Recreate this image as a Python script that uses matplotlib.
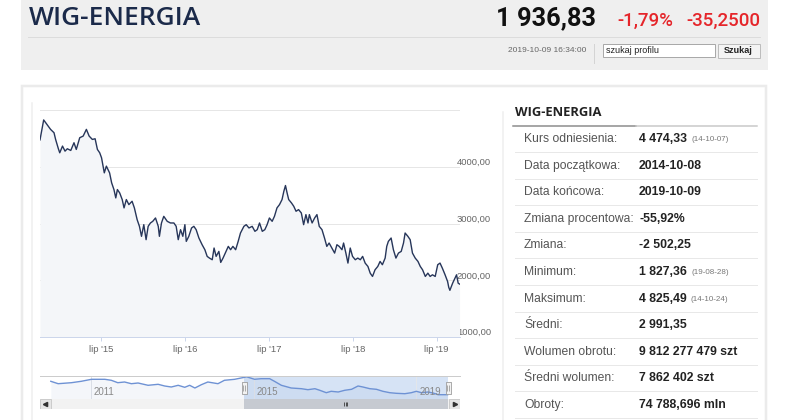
import numpy as np
import matplotlib
matplotlib.use('Agg')
import matplotlib.pyplot as plt
from matplotlib.patches import Rectangle
from matplotlib.path import Path

# ---- data ----
main_dates = [
    '2014-10-08', '2014-10-24', '2014-11-23', '2014-12-08', '2014-12-15', '2014-12-27',
    '2015-01-02', '2015-01-14', '2015-01-25', '2015-02-04', '2015-02-19', '2015-03-05',
    '2015-03-15', '2015-03-30', '2015-04-14', '2015-04-28', '2015-05-10', '2015-05-24',
    '2015-06-05', '2015-06-15', '2015-06-25', '2015-07-03', '2015-07-15', '2015-07-24',
    '2015-08-07', '2015-08-16', '2015-08-26', '2015-09-03', '2015-09-10', '2015-09-20',
    '2015-10-01', '2015-10-09', '2015-10-19', '2015-10-30', '2015-11-13', '2015-11-23',
    '2015-12-05', '2015-12-15', '2015-12-24', '2016-01-03', '2016-01-13', '2016-01-22',
    '2016-02-01', '2016-02-11', '2016-02-23', '2016-03-06', '2016-03-11', '2016-03-20',
    '2016-03-30', '2016-04-14', '2016-04-28', '2016-05-13', '2016-05-23', '2016-06-01',
    '2016-06-11', '2016-06-21', '2016-06-30', '2016-07-06', '2016-07-17', '2016-07-29',
    '2016-08-08', '2016-08-18', '2016-08-30', '2016-09-13', '2016-09-25', '2016-10-05',
    '2016-10-15', '2016-10-27', '2016-11-04', '2016-11-13', '2016-11-25', '2016-12-03',
    '2016-12-13', '2016-12-23', '2017-01-05', '2017-01-15', '2017-01-25', '2017-02-06',
    '2017-02-17', '2017-02-27', '2017-03-14', '2017-03-24', '2017-04-05', '2017-04-19',
    '2017-05-01', '2017-05-11', '2017-05-21', '2017-06-02', '2017-06-13', '2017-06-23',
    '2017-07-03', '2017-07-15', '2017-07-25', '2017-08-05', '2017-08-16', '2017-08-27',
    '2017-09-04', '2017-09-11', '2017-09-18', '2017-09-25', '2017-10-07', '2017-10-17',
    '2017-10-27', '2017-11-07', '2017-11-19', '2017-11-29', '2017-12-09', '2017-12-18',
    '2017-12-24', '2018-01-05', '2018-01-16', '2018-01-26', '2018-02-05', '2018-02-17',
    '2018-02-28', '2018-03-10', '2018-03-20', '2018-04-01', '2018-04-13', '2018-04-23',
    '2018-05-03', '2018-05-15', '2018-05-22', '2018-06-01', '2018-06-10', '2018-06-20',
    '2018-06-30', '2018-07-12', '2018-07-23', '2018-08-03', '2018-08-13', '2018-08-24',
    '2018-09-05', '2018-09-15', '2018-09-25', '2018-10-06', '2018-10-18', '2018-10-28',
    '2018-11-07', '2018-11-19', '2018-11-26', '2018-12-03', '2018-12-15', '2018-12-25',
    '2019-01-05', '2019-01-16', '2019-01-28', '2019-02-07', '2019-02-14', '2019-02-26',
    '2019-03-08', '2019-03-18', '2019-03-30', '2019-04-11', '2019-04-21', '2019-05-01',
    '2019-05-13', '2019-05-24', '2019-06-03', '2019-06-13', '2019-06-25', '2019-07-06',
    '2019-07-16', '2019-07-26', '2019-08-07', '2019-08-18', '2019-08-23', '2019-08-28',
    '2019-09-09', '2019-09-19', '2019-09-26', '2019-10-03', '2019-10-09',
]
main_values = [
    4474, 4825, 4659, 4600, 4482, 4318,
    4247, 4365, 4276, 4318, 4288, 4424,
    4306, 4512, 4541, 4659, 4541, 4482,
    4494, 4306, 4247, 4159, 3894, 4012,
    3894, 3718, 3600, 3453, 3600, 3541,
    3424, 3277, 3424, 3335, 3394, 3277,
    3071, 2953, 2777, 2982, 2718, 2953,
    3012, 3041, 3100, 2953, 2777, 3012,
    3129, 3041, 3012, 3012, 2953, 2718,
    2894, 2777, 2982, 2688, 2777, 2924,
    2953, 2894, 2747, 2629, 2541, 2424,
    2394, 2365, 2571, 2424, 2512, 2318,
    2394, 2482, 2600, 2541, 2600, 2541,
    2688, 2835, 2953, 2982, 2924, 2953,
    2865, 2894, 3012, 2865, 2894, 2982,
    3100, 3041, 3129, 3277, 3335, 3424,
    3571, 3671, 3541, 3424, 3365, 3306,
    3218, 3247, 3188, 2982, 3159, 3012,
    3159, 3012, 3100, 3159, 2953, 2894,
    2747, 2600, 2659, 2571, 2482, 2629,
    2600, 2541, 2659, 2482, 2306, 2571,
    2424, 2365, 2394, 2365, 2424, 2306,
    2247, 2129, 2071, 2188, 2247, 2335,
    2277, 2394, 2600, 2688, 2747, 2541,
    2394, 2482, 2512, 2659, 2835, 2777,
    2718, 2482, 2394, 2335, 2247, 2188,
    2071, 2129, 2071, 2100, 2071, 2277,
    2306, 2218, 2100, 1982, 1880, 1827,
    1953, 2041, 2100, 1953, 1937,
]

nav_dates = [
    '2010-01-08', '2010-03-15', '2010-07-12', '2010-10-08', '2011-01-08', '2011-05-08',
    '2011-07-05', '2011-09-01', '2011-11-01', '2012-01-01', '2012-03-01', '2012-05-30',
    '2012-08-28', '2012-10-26', '2012-12-24', '2013-02-24', '2013-04-24', '2013-06-07',
    '2013-07-24', '2013-09-20', '2013-11-17', '2014-02-16', '2014-04-15', '2014-07-16',
    '2014-11-01', '2015-01-11', '2015-03-10', '2015-05-26', '2015-07-08', '2015-09-08',
    '2015-12-05', '2016-03-06', '2016-05-03', '2016-07-05', '2016-08-18', '2016-10-15',
    '2016-11-28', '2017-01-30', '2017-03-29', '2017-05-30', '2017-07-27', '2017-09-09',
    '2017-11-10', '2018-01-08', '2018-03-07', '2018-05-08', '2018-07-05', '2018-09-20',
    '2018-11-17', '2019-01-01', '2019-02-17', '2019-04-16', '2019-05-31', '2019-07-16',
    '2019-10-09',
]
nav_values = [
    3972, 3608, 3760, 3972, 4276, 4276,
    4124, 3760, 3866, 3608, 3714, 3364,
    3516, 3258, 3106, 3364, 3060, 3364,
    2954, 3456, 3866, 3608, 4124, 4276,
    4650, 4276, 4368, 4368, 3972, 3364,
    2954, 2848, 2696, 2848, 2604, 2240,
    2452, 2346, 2604, 2756, 3258, 3106,
    2848, 2756, 2452, 2240, 2148, 2088,
    2240, 2452, 2240, 2346, 2194, 1936,
    1936,
]

tick_years = [2015, 2016, 2017, 2018, 2019]
nav_years = [2011, 2015, 2019]
y_ticks = [1000, 2000, 3000, 4000, 5000]
y_labels = ['1000,00', '2000,00', '3000,00', '4000,00', '']

stat_labels = ['Kurs odniesienia:', 'Data początkowa:', 'Data końcowa:', 'Zmiana procentowa:',
               'Zmiana:', 'Minimum:', 'Maksimum:', 'Średni:', 'Wolumen obrotu:',
               'Średni wolumen:', 'Obroty:']
stat_values = ['4 474,33', '2014-10-08', '2019-10-09', '-55,92%', '-2 502,25', '1 827,36',
               '4 825,49', '2 991,35', '9 812 277 479 szt', '7 862 402 szt', '74 788,696 mln']
stat_notes = ['(14-10-07)', '', '', '', '', '(19-08-28)', '(14-10-24)', '', '', '', '']

# ---- layout helpers (pixels) ----
W, H = 786, 420
PX = 0.72  # points per pixel at dpi 100
ARIAL = ['Liberation Sans', 'DejaVu Sans']
HEAD = ['Open Sans', 'DejaVu Sans']
NUM = ['Roboto', 'DejaVu Sans']


def rect(x0, y0, x1, y1):
    return [x0 / W, 1 - y1 / H, (x1 - x0) / W, (y1 - y0) / H]


fig = plt.figure(figsize=(W / 100, H / 100), dpi=100, facecolor='white')
bg = fig.add_axes([0, 0, 1, 1])
bg.set_xlim(0, W)
bg.set_ylim(H, 0)
bg.axis('off')

# header
bg.add_patch(Rectangle((20.7, 0), 747.3, 70, fc='#efefef', ec='none'))
bg.plot([28, 760], [36.7, 36.7], color='#dcdcdc', lw=1 * PX)
bg.text(29, 25, 'WIG-ENERGIA', family=HEAD, fontsize=19, weight='semibold', color='#1b2a4a',
        va='baseline')
bg.text(596, 25.5, '1 936,83', family=NUM, fontsize=18.3, weight='bold', color='#111111',
        va='baseline', ha='right')
bg.text(617, 25.5, '-1,79%', family=NUM, fontsize=13.5, weight='medium', color='#e5252a',
        va='baseline')
bg.text(760, 25.5, '-35,2500', family=NUM, fontsize=13.5, weight='medium', color='#e5252a',
        va='baseline', ha='right')
bg.text(586, 50.5, '2019-10-09 16:34:00', family=ARIAL, fontsize=6, color='#666666',
        ha='right', va='center')
bg.plot([594, 594], [43.5, 63], color='#d4d4d4', lw=1 * PX)
bg.add_patch(Rectangle((603, 44), 112, 13, fc='white', ec='#a9a9a9', lw=1 * PX))
bg.text(606, 50.5, 'szukaj profilu', family=ARIAL, fontsize=6.5, color='#222222', va='center')
bg.add_patch(Rectangle((717.5, 43.5), 42, 14, fc='#f4f4f4', ec='#bdbdbd', lw=1 * PX))
bg.text(738.5, 50.7, 'Szukaj', family=ARIAL, fontsize=6.6, weight='bold', color='#222222',
        ha='center', va='center')

# panels
bg.add_patch(Rectangle((21.8, 86), 744.5, 340, fc='white', ec='#ebebeb', lw=2.5 * PX))
bg.plot([32, 32], [102.7, 420], color='#eeeeee', lw=1.5 * PX)
bg.plot([502.7, 502.7], [111.7, 420], color='#eeeeee', lw=1.5 * PX)

# ---- main chart ----
mx = np.array(main_dates, dtype='datetime64[D]')
ax = fig.add_axes(rect(40, 110, 460, 337.3))
ax.set_facecolor('white')
ax.fill_between(mx, main_values, 1000, color='#f4f6f9', lw=0)
ax.plot(mx, main_values, color='#27365a', lw=1.0)
ax.set_xlim(np.datetime64('2014-10-08'), np.datetime64('2019-10-11'))
ax.set_ylim(1000, 5000)
ax.set_yticks(y_ticks)
ax.set_yticklabels(y_labels)
ax.yaxis.tick_right()
ax.yaxis.grid(True, color='#e6e6e6', lw=1 * PX)
ax.set_axisbelow(True)
ax.set_xticks([np.datetime64('%d-07-01' % y) for y in tick_years])
ax.set_xticklabels(["lip '%02d" % (y % 100) for y in tick_years])
for s in ['top', 'left', 'right']:
    ax.spines[s].set_visible(False)
ax.spines['bottom'].set_color('#ccd6eb')
ax.spines['bottom'].set_linewidth(1 * PX)
ax.tick_params(axis='x', length=4 * PX, width=1 * PX, color='#ccd6eb', labelsize=6.8,
               labelcolor='#666666', pad=2.5)
ax.tick_params(axis='y', length=0, labelsize=6.8, labelcolor='#666666', pad=-2.2)
for t in ax.get_xticklabels() + ax.get_yticklabels():
    t.set_family(ARIAL)
for t in ax.yaxis.get_major_ticks():
    t.label2.set_verticalalignment('bottom')

# ---- navigator ----
nx = np.array(nav_dates, dtype='datetime64[D]')
nav = fig.add_axes(rect(40, 376, 460, 398.7))
nav.set_xlim(np.datetime64('2009-10-03'), np.datetime64('2020-01-28'))
nav.set_ylim(1328, 4778)
nav.axvspan(mx[0], mx[-1], color='#d6e3f5', lw=0, zorder=0.5)
for y in nav_years:
    nav.axvline(np.datetime64('%d-01-01' % y), color='#e3e6ea', lw=1 * PX, zorder=0.6)
nav.fill_between(nx, nav_values, 1328, color='#335cad', alpha=0.05, lw=0, zorder=1)
nav.plot(nx, nav_values, color='#6e92d4', lw=1.0, zorder=2)
for y in nav_years:
    nav.annotate(str(y), xy=(np.datetime64('%d-01-01' % y), 0.3),
                 xycoords=('data', 'axes fraction'), xytext=(2.2, 0),
                 textcoords='offset points', ha='left', va='center',
                 family=ARIAL, fontsize=7, color='#888888')
nav.set_xticks([])
nav.set_yticks([])
for s in ['left', 'right', 'bottom']:
    nav.spines[s].set_visible(False)
nav.spines['top'].set_color('#cccccc')
nav.spines['top'].set_linewidth(1 * PX)

handle = Path([(-2.5, -6), (2.5, -6), (2.5, 6), (-2.5, 6), (-2.5, -6),
               (-0.8, -3), (-0.8, 3), (0.8, -3), (0.8, 3)],
              [Path.MOVETO, Path.LINETO, Path.LINETO, Path.LINETO, Path.CLOSEPOLY,
               Path.MOVETO, Path.LINETO, Path.MOVETO, Path.LINETO])
nav.plot([mx[0], mx[-1]], [0.47, 0.47], ls='none', marker=handle, markersize=12 * PX,
         mfc='#f2f2f2', mec='#999999', mew=0.8 * PX,
         transform=nav.get_xaxis_transform(), clip_on=False, zorder=5)

# ---- scrollbar ----
sb = fig.add_axes(rect(40, 398.7, 460, 409.3))
sb.set_xlim(nav.get_xlim())
sb.set_ylim(0, 1)
sb.set_facecolor('#f2f2f2')
sb.axvspan(mx[0], mx[-1], color='#c6cad1', lw=0)
bw = 10.7 / 420
sb.add_patch(Rectangle((0, 0), bw, 1, transform=sb.transAxes, fc='#e6e6e6', ec='#cccccc', lw=1 * PX))
sb.add_patch(Rectangle((1 - bw, 0), bw, 1, transform=sb.transAxes, fc='#e6e6e6', ec='#cccccc', lw=1 * PX))
sb.plot([bw / 2], [0.5], marker='<', markersize=3 * PX * 1.4, color='#333333', transform=sb.transAxes)
sb.plot([1 - bw / 2], [0.5], marker='>', markersize=3 * PX * 1.4, color='#333333', transform=sb.transAxes)
grip = mx[0] + (mx[-1] - mx[0]) / 2
sb.plot([grip - 12, grip, grip + 12], [0.5, 0.5, 0.5], ls='none', marker='|',
        markersize=4 * PX, color='#333333', mew=0.8 * PX)
sb.set_xticks([])
sb.set_yticks([])
for s in sb.spines.values():
    s.set_visible(False)

# ---- stats table ----
bg.text(515, 112.5, 'WIG-ENERGIA', family=HEAD, fontsize=9.4, weight='bold', color='#222222',
        va='center')
bg.plot([513, 636], [126, 126], color='#8a8a8a', lw=1.5 * PX)
bg.plot([636, 757], [126, 126], color='#c8c8c8', lw=1.5 * PX)
for i, (lab, val, note) in enumerate(zip(stat_labels, stat_values, stat_notes)):
    sep = 152 + 26.6 * i
    cy = sep - 13
    bg.plot([515, 757], [sep, sep], color='#e8e8e8', lw=1 * PX)
    bg.text(524, cy, lab, family=ARIAL, fontsize=8.7, color='#555555', va='center')
    t = bg.text(639, cy, val, family=ARIAL, fontsize=8.8, weight='bold', color='#222222',
                va='center')
    if note:
        bg.annotate(note, xy=(1, 0.45), xycoords=t, xytext=(3, 0), textcoords='offset points',
                    family=ARIAL, fontsize=5.8, color='#777777', va='center')

fig.savefig('out.png', dpi=100, facecolor='white')
